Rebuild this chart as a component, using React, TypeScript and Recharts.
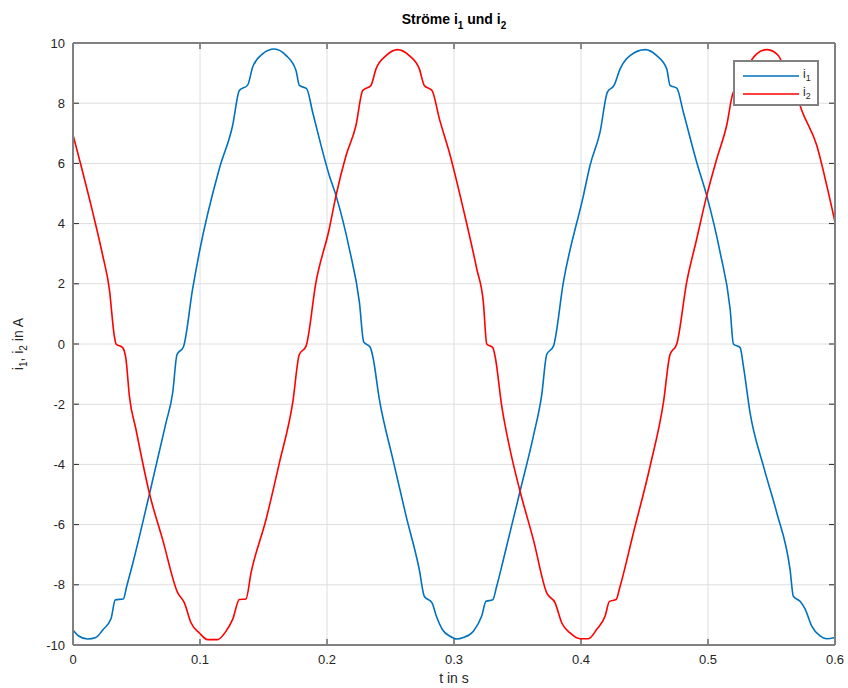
import { LineChart, Line, XAxis, YAxis, CartesianGrid, Legend, ReferenceLine } from 'recharts'

// i1 readings (time in s, current in A)
const t1 = [
  0, 0.0045, 0.0115, 0.018, 0.0234, 0.0299, 0.0333, 0.0396, 0.0423, 0.047, 0.0601, 0.0732, 0.0785,
  0.0819, 0.0869, 0.0942, 0.0995, 0.1152, 0.1257, 0.131, 0.1375, 0.1415, 0.1493, 0.1585, 0.1677,
  0.1756, 0.1782, 0.184, 0.1887, 0.2018, 0.2071, 0.2176, 0.2255, 0.2289, 0.2339, 0.236, 0.2412,
  0.2517, 0.2622, 0.2727, 0.2766, 0.2827, 0.2858, 0.2911, 0.2969, 0.3021, 0.3074, 0.3153, 0.3218,
  0.3252, 0.3305, 0.3336, 0.3389, 0.352, 0.3625, 0.3691, 0.373, 0.3783, 0.3861, 0.4019, 0.4071,
  0.415, 0.4208, 0.426, 0.4308, 0.4386, 0.4505, 0.4596, 0.4675, 0.4701, 0.4754, 0.4806, 0.4911,
  0.499, 0.5095, 0.5174, 0.52, 0.5253, 0.5279, 0.5331, 0.5436, 0.5541, 0.5646, 0.5672, 0.5725,
  0.5764, 0.5817, 0.5882, 0.5935, 0.6,
]
const i1 = [
  -9.5, -9.7, -9.8, -9.75, -9.5, -9.13, -8.5, -8.47, -8.05, -7.3, -5.0, -2.62, -1.62,
  -0.35, -0.1, 1.83, 3.05, 5.82, 7.26, 8.42, 8.6, 9.2, 9.64, 9.8, 9.59,
  9.09, 8.59, 8.48, 7.7, 5.6, 4.93, 3.16, 1.39, 0.07, -0.1, -0.4, -1.83,
  -3.8, -5.7, -7.5, -8.38, -8.6, -9.0, -9.5, -9.71, -9.8, -9.75, -9.54, -9.04,
  -8.55, -8.5, -8.05, -7.16, -4.89, -3.06, -1.68, -0.35, -0.07, 2.05, 4.93, 5.93,
  7.04, 8.37, 8.59, 9.14, 9.58, 9.78, 9.58, 9.14, 8.59, 8.5, 7.7, 6.04,
  4.93, 3.05, 1.17, 0.0, -0.12, -0.74, -2.28, -4.05, -5.6, -7.49, -8.38, -8.55,
  -8.8, -9.37, -9.7, -9.79, -9.75,
]

// i2 readings
const t2 = [
  0, 0.0063, 0.0155, 0.0234, 0.0286, 0.0325, 0.0339, 0.0391, 0.0417, 0.0444, 0.0496, 0.0601,
  0.0706, 0.0824, 0.0877, 0.0929, 0.0995, 0.106, 0.1139, 0.1205, 0.1257, 0.131, 0.1362, 0.1402,
  0.152, 0.1625, 0.173, 0.1782, 0.1835, 0.1913, 0.2018, 0.2071, 0.215, 0.2228, 0.2281, 0.2346,
  0.2386, 0.2465, 0.2556, 0.2648, 0.2727, 0.2766, 0.2827, 0.2885, 0.2963, 0.3073, 0.3179, 0.3231,
  0.3258, 0.3305, 0.3323, 0.3376, 0.3441, 0.352, 0.3625, 0.373, 0.3796, 0.3848, 0.3914, 0.3993,
  0.4058, 0.4124, 0.419, 0.4224, 0.4276, 0.4308, 0.4413, 0.4544, 0.4649, 0.4701, 0.4754, 0.4832,
  0.4911, 0.499, 0.5069, 0.5147, 0.52, 0.5252, 0.5305, 0.5384, 0.5462, 0.5541, 0.5594, 0.5625,
  0.5685, 0.5735, 0.5856, 0.5935, 0.6,
]
const i2 = [
  6.95, 5.93, 4.38, 2.94, 1.83, 0.28, 0.0, -0.12, -0.5, -1.73, -2.84, -4.95,
  -6.5, -8.26, -8.6, -9.26, -9.6, -9.82, -9.82, -9.54, -9.15, -8.49, -8.47, -7.6,
  -5.83, -3.95, -1.95, -0.35, -0.07, 2.05, 3.83, 4.93, 6.26, 7.26, 8.42, 8.59,
  9.14, 9.58, 9.78, 9.58, 9.14, 8.59, 8.42, 7.48, 6.37, 4.49, 2.5, 1.39,
  0.0, -0.12, -0.4, -2.06, -3.5, -4.89, -6.5, -8.27, -8.6, -9.26, -9.6, -9.79,
  -9.79, -9.48, -9.04, -8.55, -8.49, -8.05, -6.27, -4.06, -1.95, -0.35, 0.0, 2.05,
  3.49, 4.93, 6.15, 7.26, 8.37, 8.55, 9.14, 9.64, 9.78, 9.64, 9.2, 8.6,
  8.45, 7.8, 6.6, 5.27, 4.05,
]

const xTicks = [0, 0.1, 0.2, 0.3, 0.4, 0.5, 0.6]
const yTicks = [-10, -8, -6, -4, -2, 0, 2, 4, 6, 8, 10]

const data1 = t1.map((t, k) => ({ t, v: i1[k] }))
const data2 = t2.map((t, k) => ({ t, v: i2[k] }))

const BLUE = '#0072BD'
const RED = '#FF0000'
const FRAME = '#808080'
const TICK = '#262626'
const FONT = '"Liberation Sans", Arial, Helvetica, sans-serif'

// inward tick marks, in axis units (about 6px each)
const X_MIN = 0
const X_MAX = 0.6
const Y_MIN = -10
const Y_MAX = 10
const TICK_DY = 0.2
const TICK_DX = 0.0047
const innerX = xTicks.slice(1, -1)
const innerY = yTicks.slice(1, -1)

function YLabel(props: any) {
  const vb = props.viewBox || { y: 43, height: 602 }
  const cx = 23
  const cy = vb.y + vb.height / 2
  return (
    <text
      x={cx}
      y={cy}
      transform={`rotate(-90 ${cx} ${cy})`}
      textAnchor="middle"
      fontSize={14}
      fill={TICK}
      fontFamily={FONT}
    >
      i<tspan fontSize={10} dy={4}>1</tspan>
      <tspan dy={-4}>, i</tspan>
      <tspan fontSize={10} dy={4}>2</tspan>
      <tspan dy={-4}> in A</tspan>
    </text>
  )
}

function LegendBox() {
  const rows = [
    { color: BLUE, sub: '1' },
    { color: RED, sub: '2' },
  ]
  return (
    <div
      style={{
        boxSizing: 'border-box',
        width: 86,
        height: 46,
        border: `2px solid ${FRAME}`,
        background: '#fff',
        padding: '5px 0 0 8px',
        fontFamily: FONT,
        fontSize: 12,
        color: TICK,
      }}
    >
      {rows.map((r) => (
        <div key={r.sub} style={{ display: 'flex', alignItems: 'center', height: 18 }}>
          <svg width={56} height={4} style={{ display: 'block' }}>
            <line x1={0} y1={2} x2={56} y2={2} stroke={r.color} strokeWidth={1.5} />
          </svg>
          <span style={{ marginLeft: 4, lineHeight: '12px' }}>
            i<sub style={{ fontSize: 9, verticalAlign: -3 }}>{r.sub}</sub>
          </span>
        </div>
      ))}
    </div>
  )
}

export default function App() {
  const tickStyle = { fill: TICK, fontSize: 13, fontFamily: FONT }
  return (
    <div style={{ position: 'absolute', left: 0, top: 0, width: 848, height: 688, background: '#fff', overflow: 'hidden' }}>
      <div
        style={{
          position: 'absolute',
          left: 354,
          top: 11,
          width: 200,
          textAlign: 'center',
          fontFamily: FONT,
          fontWeight: 'bold',
          fontSize: 14,
          lineHeight: '16px',
          color: '#000',
        }}
      >
        Ströme i<sub style={{ fontSize: 10, verticalAlign: -5 }}>1</sub> und i
        <sub style={{ fontSize: 10, verticalAlign: -5 }}>2</sub>
      </div>
      <LineChart width={848} height={688} margin={{ top: 43, right: 13, bottom: 3, left: 33 }}>
        <CartesianGrid stroke="#dedede" strokeWidth={1} />
        <XAxis
          type="number"
          dataKey="t"
          domain={[X_MIN, X_MAX]}
          ticks={xTicks}
          allowDataOverflow
          height={40}
          tickLine={false}
          tickMargin={4}
          axisLine={{ stroke: FRAME, strokeWidth: 2 }}
          tick={tickStyle}
          label={{ value: 't in s', position: 'insideBottom', offset: 2, fill: TICK, fontSize: 14, fontFamily: FONT }}
        />
        <XAxis
          xAxisId="top"
          orientation="top"
          type="number"
          dataKey="t"
          domain={[X_MIN, X_MAX]}
          ticks={xTicks}
          allowDataOverflow
          mirror
          tickLine={false}
          tick={false}
          axisLine={{ stroke: FRAME, strokeWidth: 2 }}
        />
        <YAxis
          type="number"
          domain={[Y_MIN, Y_MAX]}
          ticks={yTicks}
          allowDataOverflow
          width={40}
          tickLine={false}
          axisLine={{ stroke: FRAME, strokeWidth: 2 }}
          tick={tickStyle}
          label={{ content: YLabel }}
        />
        <YAxis
          yAxisId="right"
          orientation="right"
          type="number"
          domain={[Y_MIN, Y_MAX]}
          ticks={yTicks}
          allowDataOverflow
          mirror
          tickLine={false}
          tick={false}
          axisLine={{ stroke: FRAME, strokeWidth: 2 }}
        />
        {innerX.map((v) => (
          <ReferenceLine
            key={`xb${v}`}
            segment={[{ x: v, y: Y_MIN }, { x: v, y: Y_MIN + TICK_DY }]}
            stroke={TICK}
            ifOverflow="visible"
          />
        ))}
        {innerX.map((v) => (
          <ReferenceLine
            key={`xt${v}`}
            segment={[{ x: v, y: Y_MAX }, { x: v, y: Y_MAX - TICK_DY }]}
            stroke={TICK}
            ifOverflow="visible"
          />
        ))}
        {innerY.map((v) => (
          <ReferenceLine
            key={`yl${v}`}
            segment={[{ x: X_MIN, y: v }, { x: X_MIN + TICK_DX, y: v }]}
            stroke={TICK}
            ifOverflow="visible"
          />
        ))}
        {innerY.map((v) => (
          <ReferenceLine
            key={`yr${v}`}
            segment={[{ x: X_MAX, y: v }, { x: X_MAX - TICK_DX, y: v }]}
            stroke={TICK}
            ifOverflow="visible"
          />
        ))}
        <Line
          data={data1}
          dataKey="v"
          name="i1"
          type="monotone"
          stroke={BLUE}
          strokeWidth={1.6}
          dot={false}
          isAnimationActive={false}
        />
        <Line
          data={data2}
          dataKey="v"
          name="i2"
          type="monotone"
          stroke={RED}
          strokeWidth={1.6}
          dot={false}
          isAnimationActive={false}
        />
        <Legend
          layout="vertical"
          align="center"
          verticalAlign="middle"
          content={LegendBox}
          wrapperStyle={{ left: 733, top: 60, width: 86, height: 46 }}
        />
      </LineChart>
    </div>
  )
}
